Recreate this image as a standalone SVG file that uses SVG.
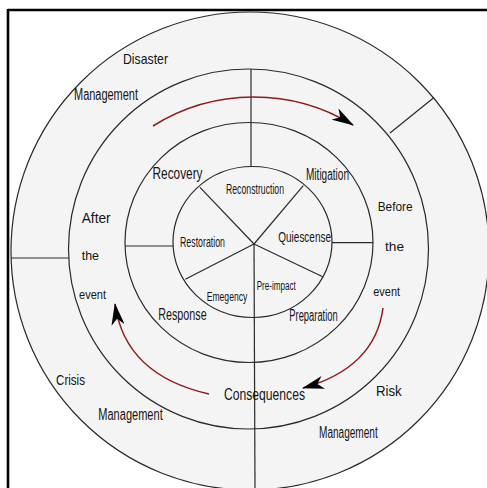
<svg xmlns="http://www.w3.org/2000/svg" width="487" height="488" viewBox="0 0 487 488">
  <style>
    .ring { fill: #f4f4f4; stroke: #2a2a2a; stroke-width: 1.2; }
    .ringn { fill: none; stroke: #2a2a2a; stroke-width: 1.2; }
    .div { stroke: #2a2a2a; stroke-width: 1.2; fill: none; }
    .frame { stroke: #000; stroke-width: 2.6; fill: none; }
    .red { fill: none; stroke: #8e1a1a; stroke-width: 1.5; }
    text { font-family: "Liberation Sans", Arial, sans-serif; fill: #151515; }
  </style>
  <defs>
    <marker id="head" markerUnits="userSpaceOnUse" viewBox="0 0 22 13" refX="21" refY="6.5" markerWidth="22" markerHeight="13" orient="auto">
      <path d="M0,0 L22,6.5 L0,13 L6,6.5 Z" fill="#000"/>
    </marker>
  </defs>
  <rect width="487" height="488" fill="#fff"/>

  <g id="outer-ring">
    <circle class="ring" cx="250" cy="251" r="239"/>
  </g>
  <g id="event-ring">
    <circle class="ringn" cx="248.5" cy="249" r="180"/>
  </g>
  <g id="phase-ring">
    <ellipse class="ringn" cx="249" cy="242.5" rx="124" ry="120"/>
  </g>
  <g id="core">
    <ellipse class="ringn" cx="252.5" cy="242" rx="79.5" ry="75.5"/>
  </g>

  <g id="dividers">
    <line class="div" x1="251" y1="69" x2="251" y2="166.5"/>
    <line class="div" x1="254" y1="244" x2="255" y2="488"/>
    <line class="div" x1="254" y1="244" x2="200" y2="187.3"/>
    <line class="div" x1="254" y1="244" x2="303.3" y2="185.7"/>
    <line class="div" x1="254" y1="244" x2="322.7" y2="276.7"/>
    <line class="div" x1="254" y1="244" x2="185.3" y2="279.3"/>
    <line class="div" x1="125" y1="246" x2="173" y2="246"/>
    <line class="div" x1="332" y1="242.7" x2="373" y2="242.7"/>
    <line class="div" x1="11" y1="258" x2="69" y2="258"/>
    <line class="div" x1="390" y1="133" x2="434" y2="97.5"/>
  </g>

  <g id="frame">
    <line class="frame" x1="8" y1="10" x2="487" y2="10"/>
    <line class="frame" x1="8" y1="9" x2="8" y2="488"/>
  </g>

  <g id="connectors">
    <path class="red" d="M153,126 A190,190 0 0,1 353,125" marker-end="url(#head)"/>
    <path class="red" d="M383,308 Q375,368 303,388" marker-end="url(#head)"/>
    <path class="red" d="M209,394 Q125,375 115,304" marker-end="url(#head)"/>
  </g>

  <g id="labels">
    <g id="disaster-management">
      <text x="123" y="63.5" font-size="14.5" textLength="45" lengthAdjust="spacingAndGlyphs">Disaster</text>
      <text x="74" y="100" font-size="16" textLength="64" lengthAdjust="spacingAndGlyphs">Management</text>
    </g>
    <g id="risk-management">
      <text x="376" y="395.5" font-size="15" textLength="25.7" lengthAdjust="spacingAndGlyphs">Risk</text>
      <text x="319" y="437.5" font-size="16" textLength="58.7" lengthAdjust="spacingAndGlyphs">Management</text>
    </g>
    <g id="crisis-management">
      <text x="56" y="384.5" font-size="15" textLength="29" lengthAdjust="spacingAndGlyphs">Crisis</text>
      <text x="98.3" y="419.5" font-size="16" textLength="64.4" lengthAdjust="spacingAndGlyphs">Management</text>
    </g>
    <g id="before-event">
      <text x="377.7" y="210.5" font-size="13.5" textLength="35" lengthAdjust="spacingAndGlyphs">Before</text>
      <text x="385" y="251" font-size="13.5" textLength="19" lengthAdjust="spacingAndGlyphs">the</text>
      <text x="373.3" y="295.5" font-size="13.5" textLength="26.7" lengthAdjust="spacingAndGlyphs">event</text>
    </g>
    <g id="after-event">
      <text x="81.7" y="223" font-size="14.5" textLength="29" lengthAdjust="spacingAndGlyphs">After</text>
      <text x="81.7" y="259.5" font-size="13.5" textLength="17.3" lengthAdjust="spacingAndGlyphs">the</text>
      <text x="79" y="298.5" font-size="13.5" textLength="27" lengthAdjust="spacingAndGlyphs">event</text>
    </g>
    <g id="consequences">
      <text x="224" y="399.5" font-size="16" textLength="81" lengthAdjust="spacingAndGlyphs">Consequences</text>
    </g>
    <g id="recovery"><text x="152.5" y="178.5" font-size="17" textLength="50" lengthAdjust="spacingAndGlyphs">Recovery</text></g>
    <g id="mitigation"><text x="306" y="179.5" font-size="16" textLength="43" lengthAdjust="spacingAndGlyphs">Mitigation</text></g>
    <g id="response"><text x="158.3" y="319.5" font-size="16" textLength="48.3" lengthAdjust="spacingAndGlyphs">Response</text></g>
    <g id="preparation"><text x="289.3" y="320.5" font-size="16" textLength="48.4" lengthAdjust="spacingAndGlyphs">Preparation</text></g>
    <g id="reconstruction"><text x="226" y="193.5" font-size="14.5" textLength="58" lengthAdjust="spacingAndGlyphs">Reconstruction</text></g>
    <g id="quiescense"><text x="278.3" y="241.5" font-size="15" textLength="52.7" lengthAdjust="spacingAndGlyphs">Quiescense</text></g>
    <g id="restoration"><text x="180" y="246.5" font-size="15.5" textLength="45" lengthAdjust="spacingAndGlyphs">Restoration</text></g>
    <g id="emegency"><text x="206.7" y="300.5" font-size="13" textLength="40.6" lengthAdjust="spacingAndGlyphs">Emegency</text></g>
    <g id="pre-impact"><text x="256.7" y="289.5" font-size="12" textLength="39" lengthAdjust="spacingAndGlyphs">Pre-impact</text></g>
  </g>
</svg>
